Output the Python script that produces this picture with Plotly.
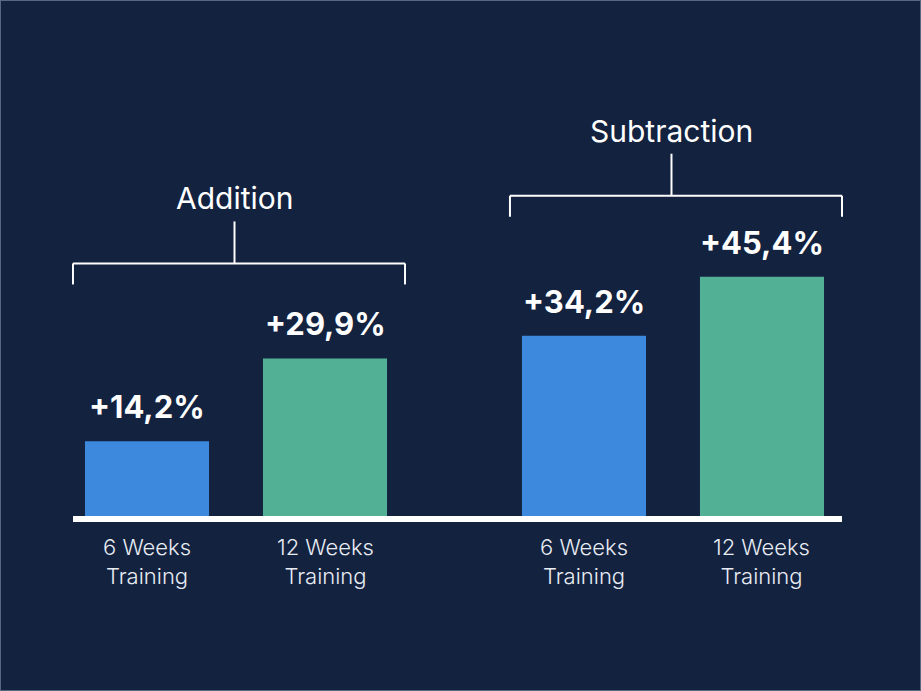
import plotly.graph_objects as go

# ---- data ----
groups = ["Addition", "Subtraction"]
conditions = ["6 Weeks<br>Training", "12 Weeks<br>Training"]
addition_values = [14.2, 29.9]
subtraction_values = [34.2, 45.4]
series = [addition_values, subtraction_values]

# ---- style ----
BG = "#13223f"
BAR_COLORS = ["#3d89de", "#52b094"]
FONT = "Inter"
W, H = 921, 691

# layout constants (pixel-based)
px_per_unit_x = 178.0     # distance between bars within a group
group_step = 2.455        # group spacing in bar units
bar_width = 0.697
px_per_unit_y = 5.27
baseline_px = 516
first_bar_px = 147

x_range = [(0 - first_bar_px) / px_per_unit_x, (W - first_bar_px) / px_per_unit_x]
y_range = [(baseline_px - H) / px_per_unit_y, baseline_px / px_per_unit_y]

fig = go.Figure()
shapes = []
annotations = []

bracket_offsets_px = [95, 81]  # bracket height above tallest bar of group

for g, (gname, vals) in enumerate(zip(groups, series)):
    xs = [g * group_step + b for b in range(len(vals))]
    fig.add_trace(go.Bar(
        x=xs, y=vals, width=bar_width,
        marker=dict(color=BAR_COLORS, line=dict(width=0)),
        hoverinfo="skip", showlegend=False,
    ))
    for x, v, c in zip(xs, vals, conditions):
        annotations.append(dict(
            x=x, y=v, xref="x", yref="y", yanchor="bottom", xanchor="center",
            text="+" + f"{v:.1f}".replace(".", ",") + "%", showarrow=False,
            yshift=14,
            font=dict(family=FONT, size=31, color="white", weight=700),
        ))
        annotations.append(dict(
            x=x, y=0, xref="x", yref="y", yanchor="top", xanchor="center",
            text=c, showarrow=False, yshift=-16,
            font=dict(family="Inter Light, Inter", size=22, color="#e8ecf3", weight=300),
        ))
    # bracket
    left = xs[0] - bar_width / 2 - 12 / px_per_unit_x
    right = xs[-1] + bar_width / 2 + 18 / px_per_unit_x
    mid = (xs[0] + xs[-1]) / 2 - 1.5 / px_per_unit_x
    by = max(vals) + bracket_offsets_px[g] / px_per_unit_y
    tick = 21 / px_per_unit_y
    stem = 42 / px_per_unit_y
    lw = dict(color="white", width=2)
    shapes.append(dict(type="line", xref="x", yref="y", x0=left, x1=right, y0=by, y1=by, line=lw))
    shapes.append(dict(type="line", xref="x", yref="y", x0=left, x1=left, y0=by, y1=by - tick, line=lw))
    shapes.append(dict(type="line", xref="x", yref="y", x0=right, x1=right, y0=by, y1=by - tick, line=lw))
    shapes.append(dict(type="line", xref="x", yref="y", x0=mid, x1=mid, y0=by, y1=by + stem, line=lw))
    annotations.append(dict(
        x=mid, y=by + stem, xref="x", yref="y", yanchor="bottom", xanchor="center",
        text=gname, showarrow=False, yshift=3,
        font=dict(family=FONT, size=30, color="white", weight=400),
    ))

# baseline
shapes.append(dict(type="rect", xref="x", yref="y",
                   x0=(73 - first_bar_px) / px_per_unit_x, x1=(842 - first_bar_px) / px_per_unit_x,
                   y0=0, y1=-6 / px_per_unit_y, fillcolor="white", line=dict(width=0)))
# border
shapes.append(dict(type="rect", xref="paper", yref="paper", x0=0, x1=1, y0=0, y1=1,
                   line=dict(color="#56677f", width=2)))

fig.update_layout(
    width=W, height=H,
    margin=dict(l=0, r=0, t=0, b=0),
    paper_bgcolor=BG, plot_bgcolor=BG,
    xaxis=dict(range=x_range, visible=False, fixedrange=True),
    yaxis=dict(range=y_range, visible=False, fixedrange=True),
    shapes=shapes, annotations=annotations,
    barmode="overlay",
)

fig.write_html("out.html", config={"displayModeBar": False},
               post_script="document.body.style.margin='0';document.body.style.overflow='hidden';")
